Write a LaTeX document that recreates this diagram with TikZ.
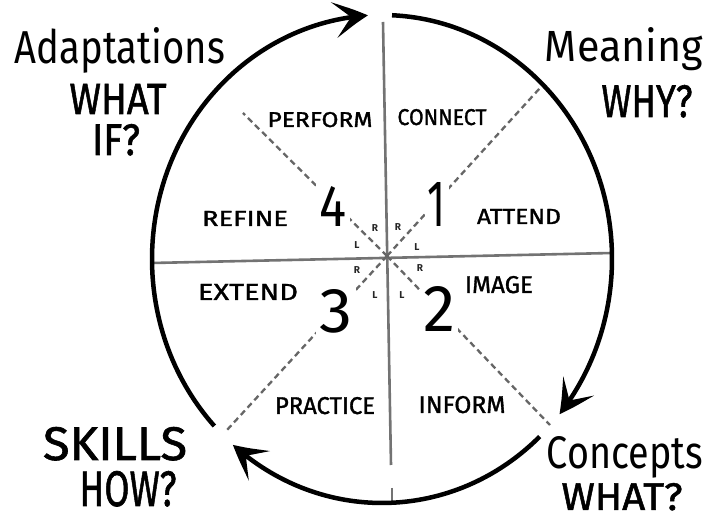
\documentclass[tikz,border=0pt]{standalone}
\usepackage{fontspec}
\setmainfont{Fira Sans}
\newfontfamily\semib[FakeBold=1.3]{Fira Sans}
\usetikzlibrary{arrows.meta,bending,calc}
\newcommand{\fb}[3]{\resizebox{#1pt}{#2pt}{#3}}
\begin{document}
\begin{tikzpicture}[x=1pt,y=1pt,
  lab/.style={inner sep=0pt,anchor=base},
  cross/.style={draw=black!55, line width=2.6pt},
  diag/.style={draw=black!60, line width=2.3pt, dash pattern=on 6pt off 4pt},
  ring/.style={line width=4.5pt, -{Stealth[length=34pt,width=36pt,inset=17pt,bend]}},
  num/.style={inner sep=3pt, anchor=base, fill=white},
  rl/.style={inner sep=0pt, font=\fontsize{10}{10}\selectfont\bfseries, text=black!85}
]
\useasboundingbox (0,0) rectangle (710,519);
\fill[white] (0,0) rectangle (710,519);
\coordinate (C) at (382,260);
\coordinate (O) at (387,263);
% cross lines
\coordinate (vt) at (383,497);
\coordinate (vb) at (391,54);
\coordinate (vb2) at (392,31);
\coordinate (vb3) at (392,17);
\coordinate (hl) at (152,256);
\coordinate (hr) at (612,266);
\draw[cross] (vt) -- (vb);
\draw[cross] (vb2) -- (vb3);
\draw[cross] (hl) -- (hr);
% diagonals
\coordinate (dTR) at (540,431);
\coordinate (dTL) at (243,406);
\coordinate (dBL) at (227,89);
\coordinate (dBR) at (550,94);
\draw[diag] (O) -- (dTR);
\draw[diag] (O) -- (dTL);
\draw[diag] (O) -- (dBL);
\draw[diag] (O) -- (dBR);
% ring arcs
\draw[ring] ($(C)+({230*cos(87.5)},{244*sin(87.5)})$) arc[start angle=87.5, end angle=-39.5, x radius=230, y radius=244];
\draw[ring] ($(C)+({230*cos(-46.7)},{244*sin(-46.7)})$) arc[start angle=-46.7, end angle=-130.4, x radius=230, y radius=244];
\draw[ring] ($(C)+({230*cos(-136.8)},{244*sin(-136.8)})$) arc[start angle=-136.8, end angle=-266.5, x radius=230, y radius=244];
% numbers
\node[num] (n4) at (333,292) {\fb{27}{40}{4}};
\node[num] (n1) at (437,292) {\fb{18}{44}{1}};
\node[num] (n3) at (336,186) {\fb{33}{43}{3}};
\node[num] (n2) at (439,187) {\fb{32}{45}{2}};
% R / L
\node[rl] (r1) at (375,291) {R};
\node[rl] (r2) at (398,292) {R};
\node[rl] (l1) at (357,274) {L};
\node[rl] (l2) at (417,272) {L};
\node[rl] (r3) at (357,249) {R};
\node[rl] (r4) at (420,251) {R};
\node[rl] (l3) at (375,224) {L};
\node[rl] (l4) at (402,224) {L};
% quadrant words
\node[lab] (perform) at (320,392) {\fb{105}{15}{\semib PERFORM}};
\node[lab] (connect) at (442,394) {\fb{89}{16}{\semib CONNECT}};
\node[lab] (refine) at (245,293) {\fb{86}{15}{\semib REFINE}};
\node[lab] (attend) at (519,295) {\fb{84}{15}{\semib ATTEND}};
\node[lab] (extend) at (248,219) {\fb{100}{16}{\semib EXTEND}};
\node[lab] (image) at (499,226) {\fb{68}{17}{\semib IMAGE}};
\node[lab] (practice) at (325,105) {\fb{100}{17}{\semib PRACTICE}};
\node[lab] (inform) at (462,106) {\fb{87}{17}{\semib INFORM}};
% outer labels
\node[lab] (adapt) at (120,455) {\fb{210}{36}{Adaptations}};
\node[lab] (whatif1) at (118,405) {\fb{97}{30}{\semib WHAT}};
\node[lab] (whatif2) at (116,364) {\fb{48}{31}{\semib IF?}};
\node[lab] (meaning) at (624,457) {\fb{158}{34}{Meaning}};
\node[lab] (why) at (647,402) {\fb{91}{32}{\semib WHY?}};
\node[lab] (skills) at (115,59) {\fb{144}{33}{\semib SKILLS}};
\node[lab] (how) at (128,13) {\fb{97}{35}{\semib HOW?}};
\node[lab] (concepts) at (625,50) {\fb{156}{32}{Concepts}};
\node[lab] (what) at (622,9) {\fb{121}{27}{\semib WHAT?}};
\end{tikzpicture}
\end{document}
